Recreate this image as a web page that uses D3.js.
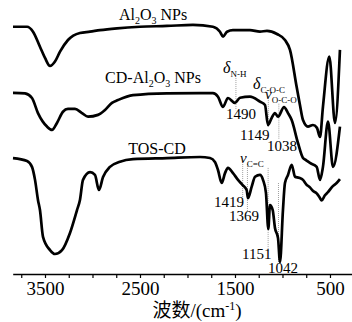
<!DOCTYPE html>
<html><head><meta charset="utf-8">
<script src="https://cdn.jsdelivr.net/npm/d3@7"></script>
<style>body{margin:0;background:#fff}svg{display:block}</style>
</head><body>
<svg id="c" width="352" height="322"></svg>
<script>
// ---- data (wavenumber cm^-1, offset transmittance a.u.) ----
const al2o3Wn = [3837,3689,3626,3553,3500,3447,3395,3342,3258,3132,3026,2921,2742,2500,2216,1942,1732,1658,1626,1584,1521,1342,1237,1163,1058,974,921,851,816,784,732,679,637,605,574,507,447,395];
const al2o3T  = [95.1,95.1,93.2,87.4,83.1,80.0,81.7,85.5,90.0,92.7,93.2,93.8,94.5,95.1,95.4,95.8,95.1,93.2,91.3,93.2,93.8,93.8,93.2,93.5,92.3,90.0,86.2,72.0,65.0,59.2,56.7,57.3,56.2,52.7,64.3,83.6,58.1,86.2];

const cdWn = [3837,3711,3637,3574,3479,3426,3374,3311,3258,3184,3111,3047,2942,2868,2795,2732,2574,2216,1868,1732,1679,1626,1574,1500,1447,1342,1237,1184,1153,1114,1079,1047,984,942,903,837,784,753,711,640,605,574,521,468,395];
const cdT  = [69.7,69.5,67.7,61.9,56.7,55.4,58.1,62.4,63.5,63.5,61.9,60.5,61.2,63.1,65.8,66.9,68.8,69.5,69.6,69.6,68.2,64.3,67.7,65.8,67.8,68.2,66.3,65.0,57.3,60.0,61.9,60.5,64.2,61.9,59.2,50.4,44.6,43.8,42.7,41.2,36.2,41.2,58.6,41.2,56.7];

const tosWn = [3837,3689,3637,3605,3574,3553,3521,3447,3395,3321,3237,3163,3132,3100,3026,2974,2932,2889,2816,2711,2574,2216,1868,1763,1711,1679,1640,1605,1574,1521,1468,1419,1377,1363,1324,1289,1237,1205,1174,1149,1132,1103,1079,1047,1026,995,974,942,903,868,826,784,750,711,680,640,610,587,555,521,470,430,395];
const tosT  = [44.6,43.5,41.2,36.2,28.5,24.6,14.3,9.2,7.7,9.2,15.8,24.6,28.5,36.2,39.2,38.1,32.3,37.3,41.2,43.2,44.2,44.6,45.0,44.6,43.1,40.0,35.0,38.8,40.8,38.8,36.2,34.2,32.3,29.2,33.6,37.4,38.1,36.2,31.2,17.3,26.5,24.6,17.7,13.8,4.6,24.6,35.0,38.1,42.0,37.4,37.0,36.2,34.5,33.3,32.0,31.0,29.5,28.3,30.2,31.5,33.8,35.0,36.5];

const seriesNames = ["Al2O3 NPs","CD-Al2O3 NPs","TOS-CD"];
const tickValues = [3750,3500,3250,3000,2750,2500,2250,2000,1750,1500,1250,1000,750,500];
const tickLabels = [3500,2500,1500,500];

// peak markers: wavenumber, line top/bottom (a.u.)
const peakWn  = [1490,1149,1038,1419,1369,1151,1042];
const peakTop = [75.4,68.5,65.5,42.3,42.3,40.8,35.0];
const peakBot = [63.0,56.5,52.0,28.5,24.0,9.0,4.6];
const peakLabel = ["1490","1149","1038","1419","1369","1151","1042"];

// ---- scales ----
const svg = d3.select("#c");
const x = d3.scaleLinear().domain([3840,265]).range([12.7,352.3]);
const y = d3.scaleLinear().domain([0,100]).range([274,14]);

const serif = "'Liberation Serif','Times New Roman','Noto Sans CJK SC',serif";

// axis
const ax = svg.append("g").attr("transform","translate(0,274)")
  .call(d3.axisBottom(x).tickValues(tickValues).tickSize(4).tickSizeOuter(0)
    .tickFormat(d => tickLabels.includes(d) ? d : ""));
ax.select(".domain").attr("stroke","#000").attr("stroke-width",1.3);
ax.selectAll(".tick line").attr("stroke","#000").attr("stroke-width",1.2);
ax.selectAll(".tick text").attr("font-family",serif).attr("font-size",19)
  .attr("fill","#000").attr("y",21).attr("dy",0);

svg.append("text").attr("x",197).attr("y",317).attr("text-anchor","middle")
  .attr("font-family",serif).attr("font-size",19).attr("fill","#000")
  .call(t=>{
    t.append("tspan").text("波数/(cm");
    t.append("tspan").attr("dy",-7).attr("font-size",12).text("-1");
    t.append("tspan").attr("dy",7).text(")");
  });

// peak dotted lines
peakWn.forEach((w,i)=>{
  svg.append("line").attr("x1",x(w)).attr("x2",x(w))
    .attr("y1",y(peakTop[i])).attr("y2",y(peakBot[i]))
    .attr("stroke","#888").attr("stroke-width",0.8).attr("stroke-dasharray","1,1");
});

// curves
const line = d3.line().x(d=>x(d[0])).y(d=>y(d[1])).curve(d3.curveMonotoneX);
[[al2o3Wn,al2o3T],[cdWn,cdT],[tosWn,tosT]].forEach(([w,t])=>{
  svg.append("path").datum(w.map((v,i)=>[v,t[i]]))
    .attr("d",line).attr("fill","none").attr("stroke","#000")
    .attr("stroke-width",2.7).attr("stroke-linejoin","round");
});

// rich text helper: parts [text, isSub]
function rich(px,py,parts,size,subSize,anchor,italicFirst){
  const t = svg.append("text").attr("x",px).attr("y",py).attr("font-family",serif)
    .attr("font-size",size).attr("fill","#000").attr("text-anchor",anchor||"start");
  let sub=false;
  parts.forEach((p,i)=>{
    const s = t.append("tspan").text(p[0]);
    if(p[1] && !sub){ s.attr("dy",3.5).attr("font-size",subSize); sub=true; }
    else if(p[1]) { s.attr("font-size",subSize); }
    else if(!p[1] && sub){ s.attr("dy",-3.5); sub=false; }
    if(italicFirst && i===0) s.attr("font-style","italic");
  });
}

rich(153,20,[["Al"],["2",1],["O"],["3",1],[" NPs"]],16,10,"middle");
rich(153,83,[["CD-Al"],["2",1],["O"],["3",1],[" NPs"]],16,10,"middle");
rich(157,154,[["TOS-CD"]],16,10,"middle");

rich(223,73,[["δ"],["N-H",1]],16,9,"start",true);
rich(253,89,[["δ"],["C-O-C",1]],16,9,"start",true);
rich(265,99,[["ν"],["O-C-O",1]],15,9,"start",true);
rich(240,163,[["ν"],["C=C",1]],15,9,"start",true);

const numPos = [[226,119],[240,140],[267,151],[214,207],[229,221],[242,259],[268,273]];
peakLabel.forEach((s,i)=>{
  svg.append("text").attr("x",numPos[i][0]).attr("y",numPos[i][1])
    .attr("font-family",serif).attr("font-size",15).attr("fill","#000").text(s);
});
</script>
</body></html>
